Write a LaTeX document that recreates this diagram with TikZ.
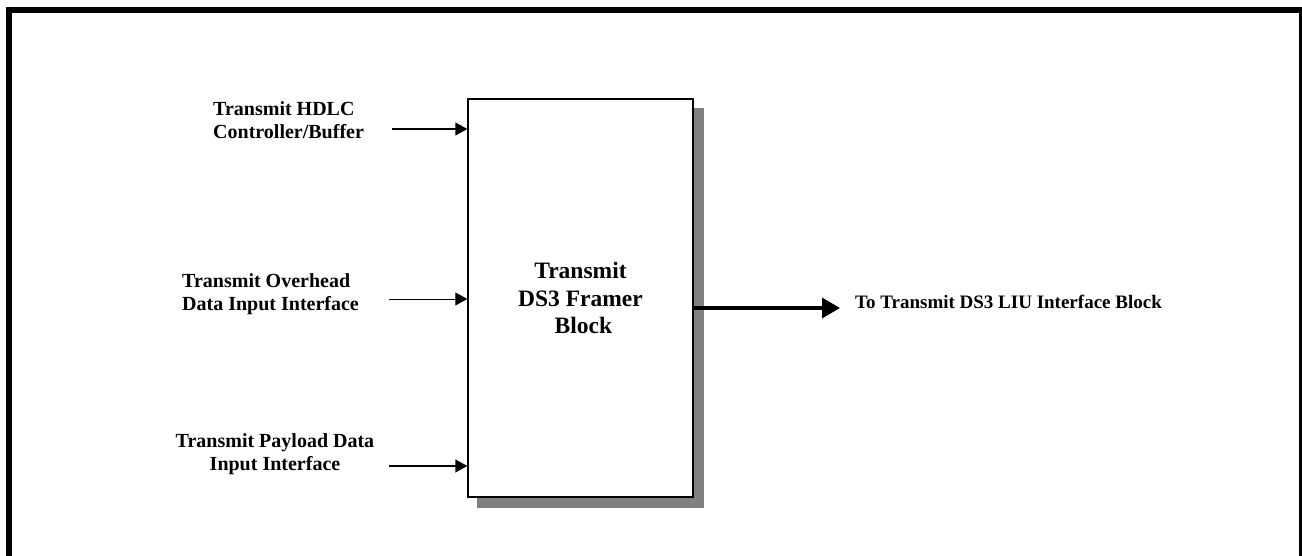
\documentclass[tikz,border=0pt]{standalone}
\usepackage{fontspec}
\setmainfont{Liberation Serif}
\usetikzlibrary{arrows.meta,backgrounds,calc}
\definecolor{shadowgray}{RGB}{128,128,128}
\begin{document}
\begin{tikzpicture}[x=1pt,y=-1pt,
  lbl/.style={font=\bfseries\fontsize{20}{23}\selectfont, inner sep=0pt},
  outlbl/.style={font=\bfseries\fontsize{19}{22}\selectfont, inner sep=0pt},
  blockbox/.style={draw, fill=white, line width=1.5pt, minimum width=225pt, minimum height=398pt,
    align=center, font=\bfseries\fontsize{23.5}{27.5}\selectfont},
  inarrow/.style={line width=1.5pt, -{Triangle[length=12pt,width=13pt]}},
  thinarrow/.style={line width=1pt, -{Triangle[length=12pt,width=13pt]}},
  outarrow/.style={line width=3.5pt, -{Triangle[length=18pt,width=20pt]}}]
\useasboundingbox (0,0) rectangle (1302,555);
\begin{scope}
\clip (0,0) rectangle (1302,555);
\draw[line width=6.5pt, line join=miter] (9,590) -- (9,10) -- (1302,10) -- (1302,590);
\end{scope}

\node[blockbox] (blk) at (580.5,298) {Transmit\\DS3 Framer\\\hspace*{0.25em}Block};
\begin{scope}[on background layer]
\fill[shadowgray] ($(blk.south west)+(10,10)$) rectangle ($(blk.north east)+(10,10)$);
\end{scope}

\node[lbl, anchor=west, align=left] (hdlc) at (213,120) {Transmit HDLC\\Controller/Buffer};
\node[lbl, anchor=west, align=left] (ovh) at (182,294) {Transmit Overhead\\Data Input Interface};
\node[lbl, anchor=center, align=center] (pay) at (275,454) {Transmit Payload Data\\Input Interface};
\node[outlbl, anchor=base west] (liu) at (855,308) {To Transmit DS3 LIU Interface Block};

\coordinate (hin) at (392,129);
\coordinate (oin) at (389,299);
\coordinate (pin) at (389,466);
\coordinate (oend) at (840,308);

\draw[inarrow] (hin) -- (hin -| blk.west);
\draw[thinarrow] (oin) -- (oin -| blk.west);
\draw[inarrow] (pin) -- (pin -| blk.west);
\draw[outarrow] (blk.east |- oend) -- (oend);
\end{tikzpicture}
\end{document}
